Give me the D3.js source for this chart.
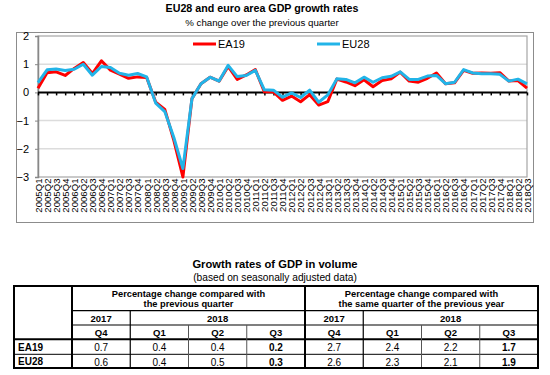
<!DOCTYPE html>
<html><head><meta charset="utf-8">
<script src="https://cdn.jsdelivr.net/npm/d3@7"></script>
<style>
html,body{margin:0;padding:0;background:#fff;}
svg{display:block;font-family:Arial,"Liberation Sans",sans-serif;}
</style></head>
<body>
<svg id="c" width="550" height="375"></svg>
<script>
const quarters = [
"2005Q1","2005Q2","2005Q3","2005Q4","2006Q1","2006Q2","2006Q3","2006Q4",
"2007Q1","2007Q2","2007Q3","2007Q4","2008Q1","2008Q2","2008Q3","2008Q4",
"2009Q1","2009Q2","2009Q3","2009Q4","2010Q1","2010Q2","2010Q3","2010Q4",
"2011Q1","2011Q2","2011Q3","2011Q4","2012Q1","2012Q2","2012Q3","2012Q4",
"2013Q1","2013Q2","2013Q3","2013Q4","2014Q1","2014Q2","2014Q3","2014Q4",
"2015Q1","2015Q2","2015Q3","2015Q4","2016Q1","2016Q2","2016Q3","2016Q4",
"2017Q1","2017Q2","2017Q3","2017Q4","2018Q1","2018Q2","2018Q3"];
const ea19 = [0.15,0.7,0.73,0.6,0.85,1.06,0.67,1.12,0.79,0.65,0.5,0.55,0.53,-0.35,-0.6,-1.7,
-3.0,-0.22,0.31,0.54,0.4,0.92,0.46,0.62,0.81,0.02,0.02,-0.28,-0.13,-0.33,-0.08,-0.45,
-0.33,0.47,0.37,0.24,0.45,0.2,0.42,0.48,0.72,0.4,0.36,0.5,0.69,0.31,0.34,0.78,
0.68,0.69,0.68,0.7,0.4,0.42,0.15];
const eu28 = [0.35,0.8,0.83,0.78,0.82,1.0,0.61,0.92,0.88,0.68,0.61,0.67,0.55,-0.38,-0.68,-1.6,
-2.7,-0.22,0.31,0.54,0.4,0.96,0.56,0.6,0.78,0.09,0.08,-0.17,-0.02,-0.18,0.08,-0.35,
-0.09,0.48,0.46,0.34,0.54,0.36,0.52,0.57,0.73,0.46,0.46,0.58,0.6,0.31,0.36,0.81,
0.69,0.66,0.66,0.64,0.4,0.47,0.3];
const yTicks = [-3,-2,-1,0,1,2];
const seriesNames = ["EA19","EU28"];

const tableYears = ["2017","2018"];
const tableQuarters = ["Q4","Q1","Q2","Q3","Q4","Q1","Q2","Q3"];
const tableRowLabels = ["EA19","EU28"];
const qoqEA19 = [0.7,0.4,0.4,0.2];
const qoqEU28 = [0.6,0.4,0.5,0.3];
const yoyEA19 = [2.7,2.4,2.2,1.7];
const yoyEU28 = [2.6,2.3,2.1,1.9];

const svg = d3.select("#c");
const colors = {EA19:"#ff0000", EU28:"#22b4e8"};

// titles
svg.append("text").attr("x",262).attr("y",12).attr("text-anchor","middle")
  .style("font-weight","bold").style("font-size","10.7px").text("EU28 and euro area GDP growth rates");
svg.append("text").attr("x",262).attr("y",26).attr("text-anchor","middle")
  .style("font-size","9.7px").text("% change over the previous quarter");

// chart frame
svg.append("rect").attr("x",16.5).attr("y",32.5).attr("width",517).attr("height",190)
  .attr("fill","none").attr("stroke","#8c8c8c");

const L=38,R=527,T=36,B=177;
const x = d3.scalePoint().domain(quarters).range([L,R]);
const y = d3.scaleLinear().domain([-3,2]).range([B,T]);

// gridlines
svg.append("g").selectAll("line").data(yTicks.filter(d=>d!==0 && d!==2 && d!==-3)).join("line")
  .attr("x1",L).attr("x2",R).attr("y1",d=>y(d)).attr("y2",d=>y(d))
  .attr("stroke","#dcdcdc").attr("stroke-width",1.5);
// plot border
svg.append("rect").attr("x",L).attr("y",T).attr("width",R-L).attr("height",B-T)
  .attr("fill","none").attr("stroke","#a6a6a6").attr("stroke-width",1.2);

// y axis
const ya = svg.append("g").attr("transform",`translate(${L},0)`)
  .call(d3.axisLeft(y).tickValues(yTicks).tickSize(3).tickFormat(d3.format("d")));
ya.select(".domain").attr("stroke","#888").attr("stroke-width",1.5);
ya.selectAll(".tick line").attr("stroke","#888");
ya.selectAll("text").style("font-size","11px").attr("fill","#000").attr("x",-9);

// zero axis with ticks
const za = svg.append("g").attr("transform",`translate(0,${y(0)})`)
  .call(d3.axisBottom(x).tickSize(3).tickFormat(""));
za.select(".domain").attr("stroke","#000").attr("stroke-width",2).attr("d",`M${L},0H${R}`);
za.selectAll(".tick line").attr("stroke","#000").attr("stroke-width",1.5);

// category labels
const xa = svg.append("g").attr("transform",`translate(0,${B})`)
  .call(d3.axisBottom(x).tickSize(0));
xa.select(".domain").remove();
xa.selectAll("text").attr("transform","rotate(-90)").attr("x",-1.5).attr("y",0)
  .attr("dy","0.35em").attr("text-anchor","end").style("font-size","9.6px").attr("fill","#000");

// lines
const line = d3.line().x((d,i)=>x(quarters[i])).y(d=>y(d));
svg.append("path").datum(ea19).attr("d",line).attr("fill","none")
  .attr("stroke",colors.EA19).attr("stroke-width",3).attr("stroke-linejoin","round");
svg.append("path").datum(eu28).attr("d",line).attr("fill","none")
  .attr("stroke",colors.EU28).attr("stroke-width",3).attr("stroke-linejoin","round");

// legend
const legX = [193,317];
seriesNames.forEach((s,i)=>{
  svg.append("line").attr("x1",legX[i]).attr("x2",legX[i]+23).attr("y1",44).attr("y2",44)
    .attr("stroke",colors[s]).attr("stroke-width",3);
  svg.append("text").attr("x",legX[i]+25).attr("y",44).attr("dy","0.35em")
    .style("font-size","11px").text(s);
});

// table
svg.append("text").attr("x",275).attr("y",268).attr("text-anchor","middle")
  .style("font-weight","bold").style("font-size","11.2px").text("Growth rates of GDP in volume");
svg.append("text").attr("x",275).attr("y",281).attr("text-anchor","middle")
  .style("font-size","10.2px").text("(based on seasonally adjusted data)");

const col = d3.scaleBand().domain(d3.range(8)).range([72,538]);
const rowsY = [286,310.7,325,339.3,354.3,368];
const tL=14,tR=538;
const tg = svg.append("g");
function ln(x1,y1,x2,y2,w,c){tg.append("line").attr("x1",x1).attr("y1",y1).attr("x2",x2).attr("y2",y2)
  .attr("stroke",c||"#000").attr("stroke-width",w);}
// horizontal
ln(col(0),rowsY[1],tR,rowsY[1],1.2);
ln(col(0),rowsY[2],tR,rowsY[2],1.2);
ln(tL,rowsY[3],tR,rowsY[3],2);
ln(tL,rowsY[4],tR,rowsY[4],1);
// verticals
ln(col(0),rowsY[0],col(0),rowsY[5],2);
ln(col(4),rowsY[0],col(4),rowsY[5],2);
ln(col(1),rowsY[1],col(1),rowsY[5],1.2);
ln(col(5),rowsY[1],col(5),rowsY[5],1.2);
[2,3,6,7].forEach(c=>ln(col(c),rowsY[2],col(c),rowsY[5],1,"#555"));
// outer
tg.append("rect").attr("x",tL).attr("y",rowsY[0]).attr("width",tR-tL).attr("height",rowsY[5]-rowsY[0])
  .attr("fill","none").attr("stroke","#000").attr("stroke-width",2);

function txt(xp,yp,s,bold,size,anchor){
  svg.append("text").attr("x",xp).attr("y",yp).attr("dy","0.35em")
    .attr("text-anchor",anchor||"middle").style("font-weight",bold?"bold":"normal")
    .style("font-size",(size||10)+"px").text(s);
}
const hdr = [["Percentage change compared with","the previous quarter"],
             ["Percentage change compared with","the same quarter of the previous year"]];
[0,1].forEach(g=>{
  const cx = (col(g*4)+col(g*4+3)+col.bandwidth())/2;
  txt(cx,293.5,hdr[g][0],true,9.3);
  txt(cx,303.5,hdr[g][1],true,9.3);
  txt(col(g*4)+col.bandwidth()/2,318.5,tableYears[0],true,9.5);
  txt((col(g*4+1)+col(g*4+3)+col.bandwidth())/2,318.5,tableYears[1],true,9.5);
});
tableQuarters.forEach((q,i)=>txt(col(i)+col.bandwidth()/2,333,q,true,9.5));
const tableVals = [qoqEA19.concat(yoyEA19), qoqEU28.concat(yoyEU28)];
tableRowLabels.forEach((r,ri)=>{
  const cy = (rowsY[3+ri]+rowsY[4+ri])/2+0.5;
  txt(18,cy,r,true,10,"start");
  tableVals[ri].forEach((v,ci)=>txt(col(ci)+col.bandwidth()/2,cy+0.5,d3.format(".1f")(v),ci%4===3,10));
});
</script>
</body></html>
